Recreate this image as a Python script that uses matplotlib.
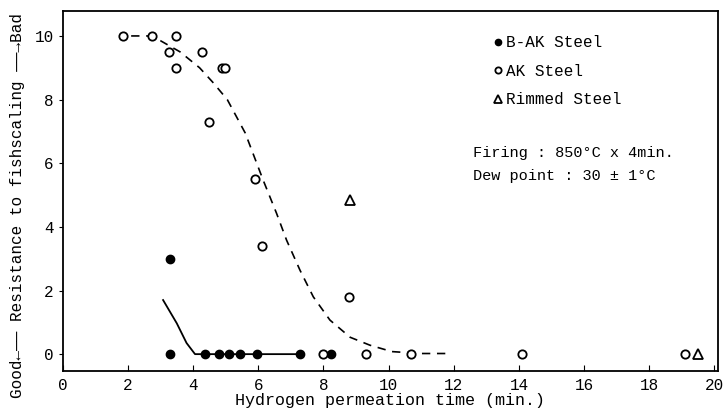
from matplotlib import pyplot as plt
import matplotlib as mpl

mpl.rcParams['font.family'] = ['Liberation Mono', 'DejaVu Sans Mono']

# B-AK steel (filled circles)
bak_x = [3.3, 3.3, 4.36, 4.8, 5.1, 5.44, 5.97, 7.29, 8.23]
bak_y = [3.0, 0.0, 0.0, 0.0, 0.0, 0.0, 0.0, 0.0, 0.0]

# AK steel (open circles)
ak_x = [1.85, 2.74, 3.26, 3.47, 3.47, 4.27, 4.49, 4.89, 4.98, 5.9, 6.13,
        8.8, 7.98, 9.3, 10.7, 14.1, 19.1]
ak_y = [10.0, 10.0, 9.5, 10.0, 9.0, 9.5, 7.3, 9.0, 9.0, 5.5, 3.4,
        1.8, 0.0, 0.0, 0.0, 0.0, 0.0]

# rimmed steel (triangles)
rim_x = [8.82, 19.5]
rim_y = [4.84, 0.0]

# hand-drawn trend lines
bak_fit_x = [3.08, 3.5, 3.8, 4.06, 4.5, 5.5, 6.5, 7.3]
bak_fit_y = [1.7, 0.97, 0.35, 0.0, 0.0, 0.0, 0.0, 0.0]
ak_fit_x = [2.1, 2.6, 3.0, 3.6, 4.2, 4.6, 5.05, 5.6, 6.15, 6.56, 6.87, 7.28,
            7.69, 8.2, 8.82, 9.43, 10.1, 11.0, 11.9]
ak_fit_y = [10.0, 10.0, 9.85, 9.5, 9.0, 8.55, 8.0, 6.95, 5.47, 4.43, 3.58,
            2.64, 1.8, 1.07, 0.53, 0.28, 0.08, 0.02, 0.02]

fig = plt.figure(figsize=(7.25, 4.12), dpi=100)
ax = fig.add_axes([0.0865, 0.0995, 0.9035, 0.8735])

ax.plot(bak_fit_x, bak_fit_y, color='black', lw=1.3)
ax.plot(ak_fit_x, ak_fit_y, color='black', lw=1.2, ls=(0, (5, 4)))
ax.plot(bak_x, bak_y, 'o', color='black', ms=6, label='B-AK Steel')
ax.plot(ak_x, ak_y, 'o', mfc='white', mec='black', mew=1.3, ms=6,
        label='AK Steel')
ax.plot(rim_x, rim_y, '^', mfc='white', mec='black', mew=1.3, ms=7,
        label='Rimmed Steel')

ax.set_xlim(0, 20.1)
ax.set_ylim(-0.53, 10.78)
ax.set_xticks(range(0, 21, 2))
ax.set_yticks(range(0, 11, 2))
ax.tick_params(axis='x', direction='in', length=4, labelsize=11.5, pad=5)
ax.tick_params(axis='y', direction='out', length=3, labelsize=11.5)
for s in ax.spines.values():
    s.set_linewidth(1.3)

ax.set_xlabel('Hydrogen permeation time (min.)', fontsize=12, labelpad=0)
ax.set_ylabel('Good\u2190\u2014\u2014 Resistance to fishscaling \u2014\u2014\u2192Bad',
              fontsize=11.5)
ax.yaxis.set_label_coords(-0.057, 0.46)

leg = ax.legend(loc='upper left', bbox_to_anchor=(0.645, 0.955),
                frameon=False, fontsize=11.5, handletextpad=0.2,
                handlelength=0.6, labelspacing=0.85, markerscale=0.75,
                borderpad=0)
ax.text(0.626, 0.606, 'Firing : 850\u00b0C x 4min.', transform=ax.transAxes,
        fontsize=11, va='center')
ax.text(0.626, 0.542, 'Dew point : 30 \u00b1 1\u00b0C', transform=ax.transAxes,
        fontsize=11, va='center')

fig.savefig('out.png', dpi=100)
